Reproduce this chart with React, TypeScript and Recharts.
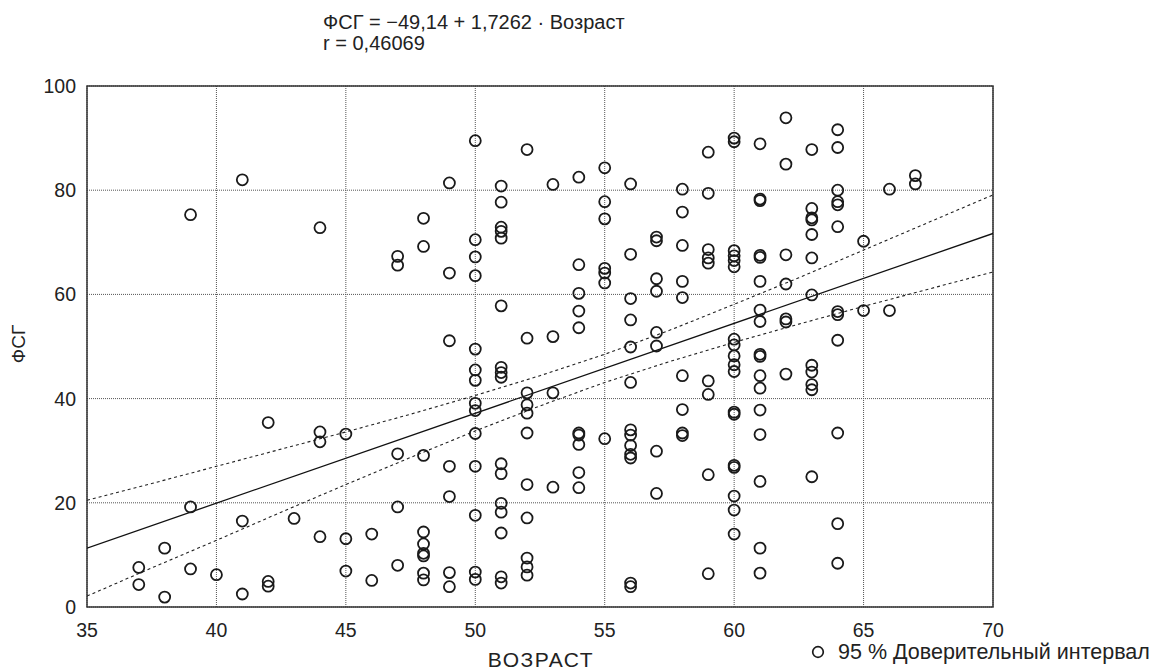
import React from 'react';
import { ScatterChart, Scatter, XAxis, YAxis, CartesianGrid, ReferenceArea } from 'recharts';

const FONT = '"Liberation Sans", Arial, Helvetica, sans-serif';

const xTicks = [35, 40, 45, 50, 55, 60, 65, 70];
const yTicks = [0, 20, 40, 60, 80, 100];

const titleLine1 = 'ФСГ = −49,14 + 1,7262 · Возраст';
const titleLine2 = 'r = 0,46069';
const xAxisTitle = 'ВОЗРАСТ';
const yAxisTitle = 'ФСГ';
const legendLabel = '95 % Доверительный интервал';

const ages = [37, 38, 39, 40, 41, 42, 43, 44, 45, 46, 47, 48, 49, 50, 51, 52, 53, 54, 55, 56, 57, 58, 59, 60, 61, 62, 63, 64, 65, 66, 67];
const fsgByAge = [
  [7.6, 4.3],
  [11.3, 1.9],
  [75.3, 19.2, 7.3],
  [6.2],
  [82.0, 16.5, 2.5],
  [35.4, 4.9, 4.0],
  [17.0],
  [72.8, 33.6, 31.7, 13.5],
  [33.2, 13.1, 6.9],
  [14.0, 5.1],
  [67.3, 65.6, 29.4, 19.2, 8.0],
  [74.6, 69.2, 29.1, 14.4, 12.1, 10.3, 9.8, 6.5, 5.2],
  [81.4, 64.1, 51.1, 27.0, 21.2, 6.6, 3.9],
  [89.5, 70.5, 67.2, 63.6, 49.5, 45.5, 43.5, 39.1, 37.7, 33.3, 27.0, 17.6, 6.7, 5.3],
  [80.8, 77.7, 72.9, 72.1, 70.8, 57.8, 46.0, 45.0, 44.1, 27.5, 25.6, 19.9, 18.2, 14.2, 5.8, 4.6],
  [87.8, 51.6, 41.1, 38.8, 37.2, 33.4, 23.5, 17.1, 9.4, 7.7, 6.1],
  [81.1, 51.9, 41.1, 23.0],
  [82.5, 65.7, 60.2, 56.8, 53.6, 33.4, 33.0, 31.2, 25.8, 22.9],
  [84.3, 77.8, 74.5, 65.0, 64.1, 62.2, 32.3],
  [81.2, 67.7, 59.2, 55.1, 49.9, 43.1, 34.0, 33.0, 31.0, 29.3, 28.6, 4.6, 3.9],
  [71.0, 70.3, 63.0, 60.6, 52.7, 50.1, 29.9, 21.8],
  [80.2, 75.8, 69.4, 62.5, 59.4, 44.4, 37.9, 33.4, 32.9],
  [87.3, 79.4, 68.6, 67.0, 66.0, 43.4, 40.8, 25.4, 6.4],
  [90.0, 89.3, 68.4, 67.4, 66.5, 65.3, 51.4, 50.3, 48.2, 46.5, 45.2, 37.4, 37.0, 27.2, 26.8, 21.3, 18.6, 14.0],
  [88.9, 78.3, 78.0, 67.5, 67.1, 62.5, 57.0, 54.8, 48.5, 48.1, 44.4, 42.0, 37.8, 33.1, 24.1, 11.3, 6.5],
  [93.9, 85.0, 67.6, 62.0, 55.3, 54.7, 44.7],
  [87.8, 76.5, 74.7, 74.3, 71.5, 67.0, 59.9, 46.4, 45.1, 42.7, 41.7, 25.0],
  [91.6, 88.2, 80.0, 77.8, 77.2, 73.0, 56.7, 56.1, 51.2, 33.4, 16.0, 8.4],
  [70.2, 56.9],
  [80.2, 56.9],
  [82.8, 81.2],
];

const fitX = [35, 70];
const fitY = [11.3, 71.7];

const ciX = [35, 37.5, 40, 42.5, 45, 47.5, 50, 52.5, 55, 57.5, 60, 62.5, 65, 67.5, 70];
const ciUpper = [20.5, 23.7, 27.0, 30.3, 33.6, 37.0, 40.6, 44.4, 48.5, 53.1, 58.1, 63.2, 68.5, 73.8, 79.1];
const ciLower = [2.1, 7.5, 12.8, 18.2, 23.5, 28.7, 33.8, 38.6, 43.1, 47.1, 50.8, 54.3, 57.7, 61.0, 64.3];

const points = ages.flatMap((a, i) => fsgByAge[i].map((v) => ({ x: a, y: v })));
const fitData = fitX.map((x, i) => ({ x, y: fitY[i] }));
const upperData = ciX.map((x, i) => ({ x, y: ciUpper[i] }));
const lowerData = ciX.map((x, i) => ({ x, y: ciLower[i] }));

const Ring = (props: any) => {
  const { cx, cy } = props;
  if (cx == null || cy == null) return <g />;
  return <circle cx={cx} cy={cy} r={5.5} fill="none" stroke="#1a1a1a" strokeWidth={1.8} />;
};
const NoShape = () => <g />;

const tickStyle = { fontSize: 19.5, fill: '#222', fontFamily: FONT };

export default function App() {
  return (
    <div style={{ position: 'absolute', left: 0, top: 0, width: 1157, height: 672, background: '#fff', fontFamily: FONT, color: '#222' }}>
      <ScatterChart width={1157} height={672} margin={{ top: 86, right: 164, bottom: 25, left: 27 }}>
        <CartesianGrid stroke="#555" strokeDasharray="1 1" strokeWidth={1} />
        <XAxis
          type="number"
          dataKey="x"
          domain={[35, 70]}
          ticks={xTicks}
          allowDataOverflow
          axisLine={false}
          tickLine={false}
          height={40}
          tickMargin={10}
          tick={tickStyle}
          interval={0}
        />
        <YAxis
          type="number"
          dataKey="y"
          domain={[0, 100]}
          ticks={yTicks}
          allowDataOverflow
          axisLine={false}
          tickLine={false}
          width={60}
          tickMargin={5}
          tick={tickStyle}
          interval={0}
        />
        <ReferenceArea x1={35} x2={70} y1={0} y2={100} fill="none" stroke="#333" strokeWidth={1.5} ifOverflow="visible" />
        <Scatter data={upperData} line={{ stroke: '#222', strokeWidth: 1.1, strokeDasharray: '3 3' }} shape={NoShape} isAnimationActive={false} legendType="none" />
        <Scatter data={lowerData} line={{ stroke: '#222', strokeWidth: 1.1, strokeDasharray: '3 3' }} shape={NoShape} isAnimationActive={false} legendType="none" />
        <Scatter data={fitData} line={{ stroke: '#111', strokeWidth: 1.3 }} shape={NoShape} isAnimationActive={false} legendType="none" />
        <Scatter data={points} shape={Ring} isAnimationActive={false} legendType="circle" />
      </ScatterChart>

      <div style={{ position: 'absolute', left: 323, top: 12, fontSize: 20, lineHeight: '21px', whiteSpace: 'nowrap' }}>
        <div>{titleLine1}</div>
        <div>{titleLine2}</div>
      </div>

      <div style={{ position: 'absolute', left: 541, top: 660, transform: 'translate(-50%, -50%)', fontSize: 21, lineHeight: '18px', letterSpacing: 1.5, whiteSpace: 'nowrap' }}>
        {xAxisTitle}
      </div>

      <div style={{ position: 'absolute', left: 19, top: 344, transform: 'translate(-50%, -50%) rotate(-90deg)', fontSize: 19, whiteSpace: 'nowrap' }}>
        {yAxisTitle}
      </div>

      <div style={{ position: 'absolute', left: 811, top: 652, transform: 'translateY(-50%)', display: 'flex', alignItems: 'center', fontSize: 21.5, lineHeight: '16px', whiteSpace: 'nowrap' }}>
        <svg width={14} height={14} style={{ marginRight: 13 }}>
          <circle cx={7} cy={7} r={5.3} fill="none" stroke="#1a1a1a" strokeWidth={1.7} />
        </svg>
        <span>{legendLabel}</span>
      </div>
    </div>
  );
}
